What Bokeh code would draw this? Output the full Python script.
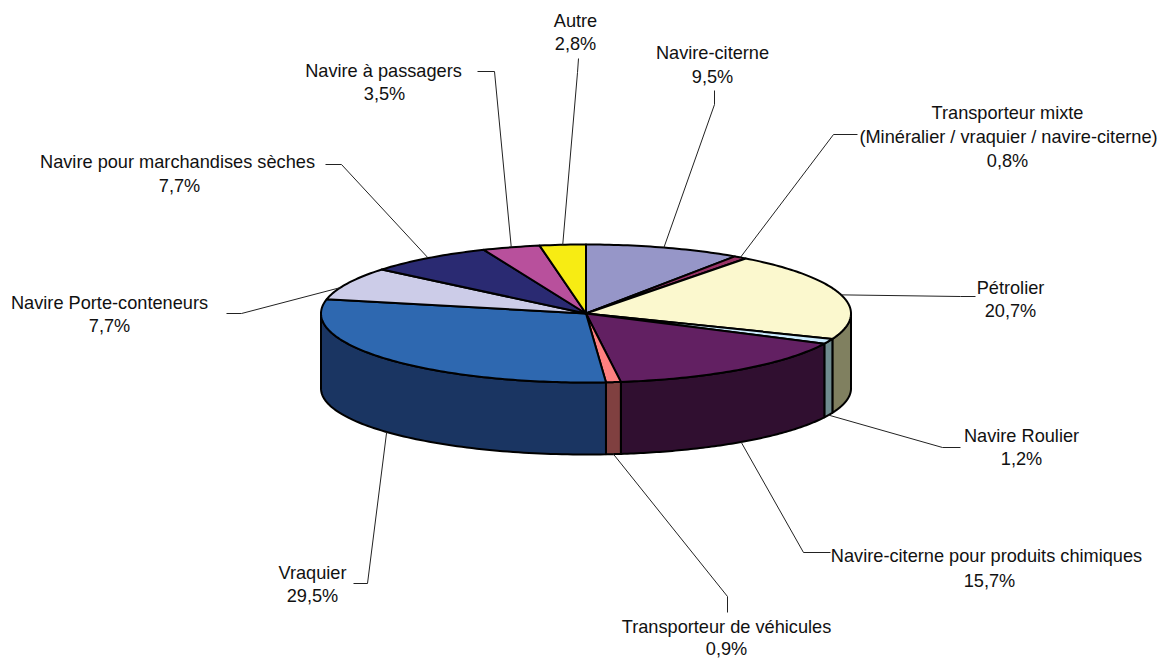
import numpy as np
from bokeh.plotting import figure
from bokeh.embed import file_html
from bokeh.resources import INLINE
from bokeh.core.properties import value

# Data, clockwise from 12 o'clock
categories = ["Navire-citerne", "Transporteur mixte", "Pétrolier", "Navire Roulier",
              "Navire-citerne pour produits chimiques", "Transporteur de véhicules",
              "Vraquier", "Navire Porte-conteneurs", "Navire pour marchandises sèches",
              "Navire à passagers", "Autre"]
shares = [9.5, 0.8, 20.7, 1.2, 15.7, 0.9, 29.5, 7.7, 7.7, 3.5, 2.8]
top_colors = ["#9696C8", "#993366", "#FBF8CE", "#CCECFF", "#622062", "#FF8080",
              "#2E68B0", "#CCCCE8", "#2A2A72", "#B8509C", "#F7EC13"]
side_colors = ["#4C4C66", "#4C1A33", "#808060", "#6F8B8F", "#300F30", "#804040",
               "#1A3562", "#666674", "#151539", "#5C284E", "#7C760A"]
label_lines = [["Navire-citerne"],
               ["Transporteur mixte", "(Minéralier / vraquier / navire-citerne)"],
               ["Pétrolier"], ["Navire Roulier"],
               ["Navire-citerne pour produits chimiques"],
               ["Transporteur de véhicules"], ["Vraquier"],
               ["Navire Porte-conteneurs"], ["Navire pour marchandises sèches"],
               ["Navire à passagers"], ["Autre"]]

# Layout (page pixels)
CX, CY, RX, RY = 585.5, 313.0, 265.0, 69.0
BOTTOM_CY, BOTTOM_RY = 388.0, 66.0
label_xy = [[(712, 52), (712, 76)],
            [(1007, 112), (1008, 136), (1007, 160)],
            [(1010, 287), (1010, 310)],
            [(1021, 435), (1021, 458)],
            [(986, 555), (989, 580)],
            [(726, 626), (726, 648)],
            [(312, 572), (312, 595)],
            [(109, 302), (109, 325)],
            [(177, 161), (179, 185)],
            [(383, 70), (384, 93)],
            [(575, 20), (575, 43)]]
leader_pts = [[(714, 90), (714, 104)],
              [(857, 134), (833, 134)],
              [(975, 296), (960, 296)],
              [(960, 447), (942, 447)],
              [(830, 552), (803, 552)],
              [(727, 612), (727, 596)],
              [(353, 583), (367, 583)],
              [(226, 313), (241, 313)],
              [(325, 164), (341, 164)],
              [(477, 71), (494, 71)],
              [(578, 58), (577, 72)]]
anchor_shift_deg = [0, 0, 0, 0, 0, 0, 0, -3.7, 0, 0, 0]

FONT = value("Liberation Sans")
FONT_SIZE = value("18.2px")

p = figure(width=1161, height=658, x_range=(0, 1161), y_range=(658, 0),
           toolbar_location=None, output_backend="svg", min_border=0,
           outline_line_color=None, background_fill_color="white")
p.xaxis.visible = False
p.yaxis.visible = False
p.xgrid.visible = False
p.ygrid.visible = False

edges = np.concatenate([[0], np.cumsum(shares)]) / sum(shares) * 2 * np.pi


def ex(t):
    return CX + RX * np.sin(t)


def ey(t):
    return CY - RY * np.cos(t)


def by(t):
    return BOTTOM_CY - BOTTOM_RY * np.cos(t)


LW = 2.0
# side walls (front half only)
for a, b, c in zip(edges[:-1], edges[1:], side_colors):
    lo, hi = max(a, np.pi / 2), min(b, 3 * np.pi / 2)
    if hi <= lo:
        continue
    t = np.linspace(lo, hi, 80)
    xs = np.concatenate([ex(t), ex(t[::-1])])
    ys = np.concatenate([ey(t), by(t[::-1])])
    p.patch(xs, ys, fill_color=c, line_color="black", line_width=LW, line_join="round")

# top slices
for a, b, c in zip(edges[:-1], edges[1:], top_colors):
    t = np.linspace(a, b, max(8, int((b - a) * 60)))
    xs = np.concatenate([[CX], ex(t)])
    ys = np.concatenate([[CY], ey(t)])
    p.patch(xs, ys, fill_color=c, line_color="black", line_width=LW, line_join="round")

# leaders and labels
for i, cat in enumerate(categories):
    mid = (edges[i] + edges[i + 1]) / 2 + np.radians(anchor_shift_deg[i])
    ax = ex(mid)
    ay = by(mid) if np.pi / 2 < mid < 3 * np.pi / 2 else ey(mid)
    pts = leader_pts[i]
    xs = [pts[0][0], pts[1][0], ax]
    ys = [pts[0][1], pts[1][1], ay]
    p.line(xs, ys, line_color="#222222", line_width=1)
    texts = label_lines[i] + [f"{shares[i]:.1f}%".replace(".", ",")]
    for txt, (lx, ly) in zip(texts, label_xy[i]):
        p.text([lx], [ly], text=[txt], text_font=FONT, text_font_size=FONT_SIZE,
               text_align="center", text_baseline="middle", text_color="#111111")

open("out.html", "w").write(file_html(p, INLINE))
